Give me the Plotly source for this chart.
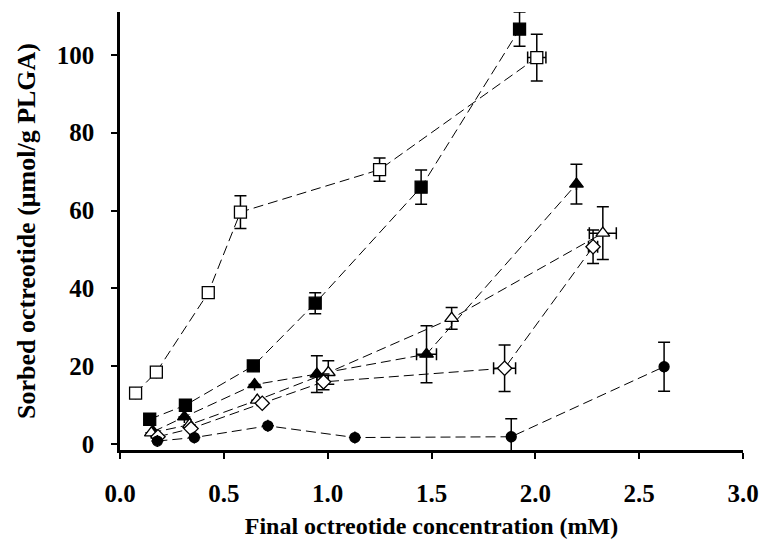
import plotly.graph_objects as go

# ---- data ----
open_sq_x = [0.075, 0.175, 0.425, 0.58, 1.25, 2.007]
open_sq_y = [13.1, 18.5, 38.9, 59.6, 70.5, 99.3]
open_sq_ey = [None, None, None, 4.2, 3.0, 6.0]
open_sq_ex = [None, None, None, None, None, 0.044]

fill_sq_x = [0.143, 0.315, 0.642, 0.94, 1.45, 1.924]
fill_sq_y = [6.4, 10.0, 20.1, 36.2, 66.0, 106.6]
fill_sq_ey = [None, None, None, 2.7, 4.4, 4.4]
fill_sq_ex = [None, None, None, None, None, None]

fill_tri_x = [0.16, 0.31, 0.648, 0.948, 1.476, 2.198]
fill_tri_y = [3.2, 7.0, 15.3, 18.0, 23.1, 66.8]
fill_tri_ey = [None, None, None, 4.7, 7.3, 5.1]
fill_tri_ex = [None, None, None, None, 0.048, None]

open_tri_x = [0.151, 0.335, 0.661, 1.003, 1.597, 2.325]
open_tri_y = [2.9, 5.0, 11.3, 18.4, 32.3, 54.2]
open_tri_ey = [None, None, None, 3.0, 2.8, 6.8]
open_tri_ex = [None, None, None, None, None, 0.065]

open_dia_x = [0.183, 0.342, 0.685, 0.98, 1.852, 2.278]
open_dia_y = [1.9, 4.0, 10.5, 16.0, 19.5, 50.7]
open_dia_ey = [None, None, None, 2.0, 6.0, 4.3]
open_dia_ex = [None, None, None, None, 0.053, 0.022]

fill_cir_x = [0.18, 0.358, 0.712, 1.131, 1.884, 2.62]
fill_cir_y = [0.8, 1.7, 4.7, 1.7, 1.9, 19.9]
fill_cir_ey = [None, None, None, None, 4.6, 6.3]
fill_cir_ex = [None, None, None, None, None, None]

x_ticks = [0.0, 0.5, 1.0, 1.5, 2.0, 2.5, 3.0]
y_ticks = [0, 20, 40, 60, 80, 100]

series = [
    (open_sq_x, open_sq_y, open_sq_ey, open_sq_ex, "square", "white", 12),
    (fill_sq_x, fill_sq_y, fill_sq_ey, fill_sq_ex, "square", "black", 12),
    (fill_tri_x, fill_tri_y, fill_tri_ey, fill_tri_ex, "triangle-up", "black", 12),
    (open_tri_x, open_tri_y, open_tri_ey, open_tri_ex, "triangle-up", "white", 12),
    (open_dia_x, open_dia_y, open_dia_ey, open_dia_ex, "diamond", "white", 11),
    (fill_cir_x, fill_cir_y, fill_cir_ey, fill_cir_ex, "circle", "black", 10),
]

fig = go.Figure()
for xs, ys, ey, ex, sym, fill, size in series:
    fig.add_trace(go.Scatter(
        x=xs, y=ys, mode="lines+markers",
        line=dict(color="black", width=1, dash="10px,5px"),
        marker=dict(symbol=sym, size=size, color=fill,
                    line=dict(color="black", width=1.3)),
        error_y=dict(type="data", array=ey, visible=True,
                     color="black", thickness=1.5, width=6),
        error_x=dict(type="data", array=ex, visible=True,
                     color="black", thickness=1.5, width=6),
        showlegend=False,
    ))

font_family = "Liberation Serif"
fig.update_layout(
    width=771, height=552,
    margin=dict(l=120, r=23, t=12, b=102),
    paper_bgcolor="white", plot_bgcolor="white",
    xaxis=dict(
        range=[0, 3.0], tickvals=x_ticks, tickformat=".1f",
        showgrid=False, zeroline=False,
        showline=True, linecolor="black", linewidth=2.5,
        ticks="outside", ticklen=6, tickwidth=1.5, tickcolor="black",
        ticklabelstandoff=13,
        tickfont=dict(family=font_family, size=25, color="black", weight="bold"),
        title=dict(text="Final octreotide concentration (mM)", standoff=12,
                   font=dict(family=font_family, size=24, color="black", weight="bold")),
    ),
    yaxis=dict(
        range=[-1.5, 111], tickvals=y_ticks,
        showgrid=False, zeroline=False,
        showline=True, linecolor="black", linewidth=2.5,
        ticks="outside", ticklen=6, tickwidth=1.5, tickcolor="black",
        ticklabelstandoff=12,
        tickfont=dict(family=font_family, size=25, color="black", weight="bold"),
        title=dict(text="Sorbed octreotide (μmol/g PLGA)", standoff=14,
                   font=dict(family=font_family, size=26, color="black", weight="bold")),
    ),
)

fig.write_html("out.html")
